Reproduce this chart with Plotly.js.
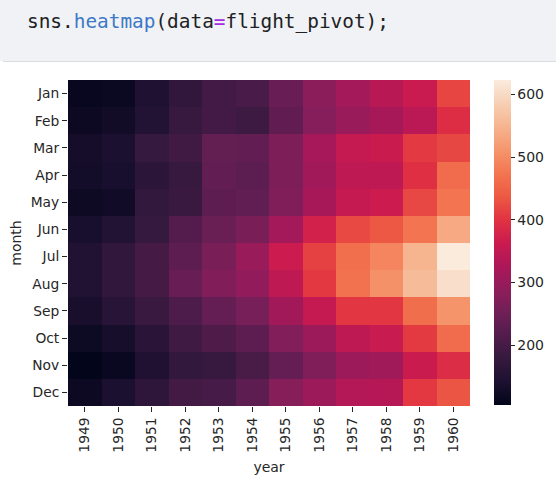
<!DOCTYPE html>
<html><head><meta charset="utf-8">
<script src="https://cdn.plot.ly/plotly-3.0.1.min.js"></script>
<style>html,body{margin:0;padding:0;background:#fff;}#chart{width:560px;height:482px;}</style>
</head><body><div id="chart"></div>
<script>
const years = ['1949','1950','1951','1952','1953','1954','1955','1956','1957','1958','1959','1960'];
const months = ['Jan','Feb','Mar','Apr','May','Jun','Jul','Aug','Sep','Oct','Nov','Dec'];
// passengers per year (each array: Jan..Dec)
const y1949 = [112,118,132,129,121,135,148,148,136,119,104,118];
const y1950 = [115,126,141,135,125,149,170,170,158,133,114,140];
const y1951 = [145,150,178,163,172,178,199,199,184,162,146,166];
const y1952 = [171,180,193,181,183,218,230,242,209,191,172,194];
const y1953 = [196,196,236,235,229,243,264,272,237,211,180,201];
const y1954 = [204,188,235,227,234,264,302,293,259,229,203,229];
const y1955 = [242,233,267,269,270,315,364,347,312,274,237,278];
const y1956 = [284,277,317,313,318,374,413,405,355,306,271,306];
const y1957 = [315,301,356,348,355,422,465,467,404,347,305,336];
const y1958 = [340,318,362,348,363,435,491,505,404,359,310,337];
const y1959 = [360,342,406,396,420,472,548,559,463,407,362,405];
const y1960 = [417,391,419,461,472,535,622,606,508,461,390,432];
const byYear = [y1949,y1950,y1951,y1952,y1953,y1954,y1955,y1956,y1957,y1958,y1959,y1960];
const z = months.map((m,i)=>byYear.map(col=>col[i]));
const colorbarTicks = [200,300,400,500,600];

const rocket = [
  [0.0,'#03051a'],[0.07,'#1c1030'],[0.1429,'#35193e'],[0.2143,'#521c4c'],[0.2857,'#701f57'],
  [0.3571,'#8f1d5b'],[0.4286,'#ad1759'],[0.5,'#cb1b4f'],[0.5714,'#e13342'],[0.6429,'#ed5a43'],
  [0.7143,'#f37651'],[0.7857,'#f5966d'],[0.8571,'#f6b48f'],[0.93,'#f7d0b5'],[1.0,'#faebdd']
];

const PL=68, PT=80, PW=402, PH=326;
const px = x => (x-PL)/PW;
const py = y => (PT+PH-y)/PH;
const ink = '#262626';

const trace = {
  type:'heatmap', x:years, y:months, z:z, colorscale:rocket, zmin:104, zmax:622,
  xgap:0, ygap:0,
  colorbar:{x:px(494), xanchor:'left', xpad:0, ypad:0, y:0.5, yanchor:'middle', len:325, lenmode:'pixels',
    thickness:17, thicknessmode:'pixels', outlinewidth:0, tickvals:colorbarTicks, ticks:'outside', ticklen:4,
    tickcolor:ink, tickfont:{family:'DejaVu Sans', size:14, color:ink}}
};

const layout = {
  width:560, height:482, margin:{l:PL, r:560-PL-PW, t:PT, b:482-PT-PH},
  paper_bgcolor:'#fff', plot_bgcolor:'#fff',
  xaxis:{type:'category', ticks:'outside', ticklen:5, tickcolor:ink, tickangle:-90, showgrid:false, zeroline:false,
    tickfont:{family:'DejaVu Sans', size:13.8, color:ink},
    title:{text:'year', font:{family:'DejaVu Sans', size:14, color:ink}, standoff:10}},
  yaxis:{type:'category', autorange:'reversed', ticks:'outside', ticklen:5, tickcolor:ink, showgrid:false, zeroline:false,
    tickfont:{family:'DejaVu Sans', size:13.8, color:ink},
    title:{text:'month', font:{family:'DejaVu Sans', size:14, color:ink}, standoff:5}},
  shapes:[
    {type:'rect', xref:'paper', yref:'paper', x0:px(-2), x1:px(556), y0:py(61), y1:py(-2), fillcolor:'#f1f2f5', line:{width:0}, layer:'below'},
    {type:'line', xref:'paper', yref:'paper', x0:px(3), x1:px(556), y0:py(61.5), y1:py(61.5), line:{color:'#dcdde0', width:1.2}}
  ],
  annotations:[{
    xref:'paper', yref:'paper', x:px(25), y:py(22), xanchor:'left', yanchor:'middle', showarrow:false,
    text:'sns.<span style="color:#3d79c7">heatmap</span>(data<span style="color:#a52ce0">=</span>flight_pivot);',
    font:{family:'DejaVu Sans Mono', size:19.4, color:'#202124'}
  }]
};
Plotly.newPlot('chart',[trace],layout,{displayModeBar:false, staticPlot:true});
</script></body></html>
